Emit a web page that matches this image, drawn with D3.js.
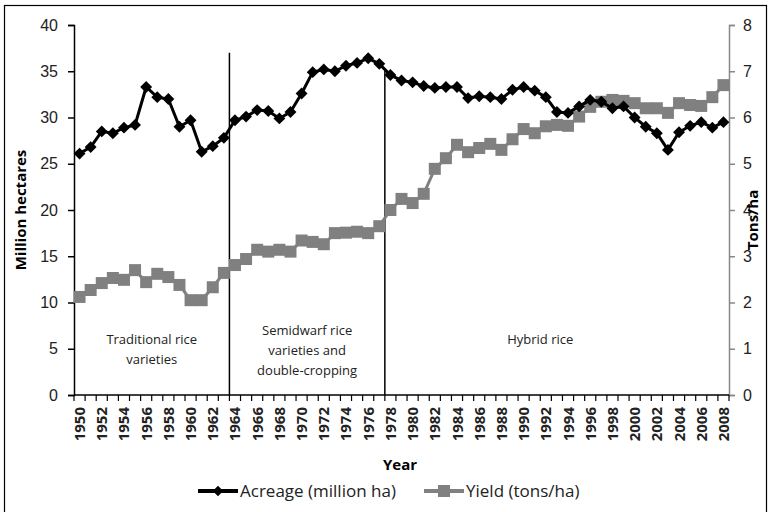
<!DOCTYPE html>
<html>
<head>
<meta charset="utf-8">
<script src="https://cdn.jsdelivr.net/npm/d3@7"></script>
<style>
  body { margin: 0; background: #fff; }
  svg { font-family: "Open Sans", "DejaVu Sans", sans-serif; }
</style>
</head>
<body>
<svg id="chart" width="769" height="512"></svg>
<script>
const years = d3.range(1950, 2009);
const acreage = [
  26.1, 26.8, 28.5, 28.3, 28.9, 29.2, 33.3, 32.2, 32.0, 29.0,
  29.7, 26.3, 26.9, 27.8, 29.7, 30.1, 30.8, 30.7, 29.9, 30.6,
  32.6, 34.9, 35.2, 35.0, 35.6, 35.9, 36.4, 35.8, 34.6, 34.0,
  33.8, 33.4, 33.2, 33.3, 33.3, 32.1, 32.3, 32.2, 32.0, 33.0,
  33.3, 32.9, 32.2, 30.6, 30.5, 31.2, 31.9, 31.7, 31.0, 31.2,
  30.0, 29.0, 28.3, 26.5, 28.4, 29.1, 29.5, 28.9, 29.5
];
const yieldVals = [
  2.12, 2.27, 2.42, 2.53, 2.49, 2.70, 2.44, 2.62, 2.55, 2.38,
  2.05, 2.05, 2.33, 2.64, 2.81, 2.94, 3.14, 3.10, 3.14, 3.10,
  3.34, 3.31, 3.26, 3.50, 3.51, 3.53, 3.50, 3.65, 4.00, 4.24,
  4.15, 4.35, 4.89, 5.12, 5.41, 5.25, 5.34, 5.43, 5.30, 5.53,
  5.75, 5.66, 5.81, 5.84, 5.82, 6.02, 6.23, 6.34, 6.38, 6.36,
  6.31, 6.20, 6.20, 6.10, 6.31, 6.27, 6.25, 6.44, 6.70
];
const leftTicks = [0, 5, 10, 15, 20, 25, 30, 35, 40];
const rightTicks = [0, 1, 2, 3, 4, 5, 6, 7, 8];
const periodStarts = [1964, 1978];
const periodTops = [37, 35.1];
const periodLabels = [
  { year: 1956.5, lines: ["Traditional rice", "varieties"], y: 5.5 },
  { year: 1970.5, lines: ["Semidwarf rice", "varieties and", "double-cropping"], y: 6.5 },
  { year: 1991.5, lines: ["Hybrid rice"], y: 5.5 }
];
const seriesNames = ["Acreage (million ha)", "Yield (tons/ha)"];

const svg = d3.select("#chart");
const plotL = 74, plotR = 729, plotT = 25, plotB = 395;

svg.append("rect")
  .attr("x", 4.5).attr("y", 5.5).attr("width", 762).attr("height", 520)
  .attr("fill", "none").attr("stroke", "#000").attr("stroke-width", 1.2);

const x = d3.scaleBand().domain(years).range([plotL, plotR]);
const xc = d => x(d) + x.bandwidth() / 2;
const yL = d3.scaleLinear().domain([0, 40]).range([plotB, plotT]);
const yR = d3.scaleLinear().domain([0, 8]).range([plotB, plotT]);

// left axis
const gL = svg.append("g").attr("transform", `translate(${plotL},0)`)
  .call(d3.axisLeft(yL).tickValues(leftTicks).tickSize(6).tickPadding(10));
gL.selectAll("path, line").attr("stroke", "#000").attr("stroke-width", 1.5);
gL.selectAll("text").attr("font-size", 16).attr("fill", "#222");

// right axis
const gR = svg.append("g").attr("transform", `translate(${plotR},0)`)
  .call(d3.axisRight(yR).tickValues(rightTicks).tickSize(6).tickPadding(8));
gR.selectAll("path, line").attr("stroke", "#888").attr("stroke-width", 1.5);
gR.selectAll("text").attr("font-size", 16).attr("fill", "#222");

// bottom axis: ticks at category boundaries
const gB = svg.append("g").attr("transform", `translate(0,${plotB})`);
gB.append("line").attr("x1", plotL).attr("x2", plotR)
  .attr("stroke", "#000").attr("stroke-width", 1.5);
gB.selectAll("line.tk").data(years.concat([2009])).join("line")
  .attr("class", "tk")
  .attr("x1", d => d === 2009 ? plotR : x(d))
  .attr("x2", d => d === 2009 ? plotR : x(d))
  .attr("y1", 0).attr("y2", 6)
  .attr("stroke", "#000").attr("stroke-width", 1.2);
gB.selectAll("text").data(years.filter(d => d % 2 === 0)).join("text")
  .attr("transform", d => `translate(${xc(d) + 5.5},12) rotate(-90)`)
  .attr("text-anchor", "end")
  .attr("font-size", 15).attr("font-weight", "bold").attr("fill", "#222")
  .text(d => d);

// period dividers
svg.selectAll("line.period").data(periodStarts).join("line")
  .attr("class", "period")
  .attr("x1", d => x(d)).attr("x2", d => x(d))
  .attr("y1", (d, i) => yL(periodTops[i])).attr("y2", plotB)
  .attr("stroke", "#000").attr("stroke-width", 1.5);

// period labels
periodLabels.forEach(p => {
  const t = svg.append("text")
    .attr("x", xc(Math.floor(p.year)) + (p.year % 1 ? x.bandwidth() / 2 : 0))
    .attr("y", yL(p.y))
    .attr("text-anchor", "middle")
    .attr("font-size", 13).attr("fill", "#222");
  p.lines.forEach((l, i) => t.append("tspan")
    .attr("x", t.attr("x")).attr("dy", i ? 20 : 0).text(l));
});

// series
const lineL = d3.line().x((d, i) => xc(years[i])).y(d => yL(d));
const lineR = d3.line().x((d, i) => xc(years[i])).y(d => yR(d));

svg.append("path").datum(yieldVals).attr("d", lineR)
  .attr("fill", "none").attr("stroke", "#808080").attr("stroke-width", 3);
svg.selectAll("rect.yld").data(yieldVals).join("rect")
  .attr("class", "yld")
  .attr("x", (d, i) => xc(years[i]) - 6).attr("y", d => yR(d) - 6)
  .attr("width", 12).attr("height", 12).attr("fill", "#808080");

svg.append("path").datum(acreage).attr("d", lineL)
  .attr("fill", "none").attr("stroke", "#000").attr("stroke-width", 3);
svg.selectAll("path.acr").data(acreage).join("path")
  .attr("class", "acr")
  .attr("d", d3.symbol(d3.symbolDiamond2, 90))
  .attr("transform", (d, i) => `translate(${xc(years[i])},${yL(d)})`)
  .attr("fill", "#000");

// axis titles
svg.append("text")
  .attr("transform", `translate(26,${(plotT + plotB) / 2}) rotate(-90)`)
  .attr("text-anchor", "middle").attr("font-size", 15).attr("font-weight", "bold")
  .text("Million hectares");
svg.append("text")
  .attr("transform", `translate(758,${(plotT + plotB) / 2 + 10}) rotate(-90)`)
  .attr("text-anchor", "middle").attr("font-size", 15).attr("font-weight", "bold")
  .text("Tons/ha");
svg.append("text")
  .attr("x", 400).attr("y", 470)
  .attr("text-anchor", "middle").attr("font-size", 15).attr("font-weight", "bold")
  .text("Year");

// legend
const legend = svg.append("g").attr("transform", "translate(0,497)");
const legX = [198, 424];
seriesNames.forEach((name, i) => {
  const g = legend.append("g").attr("transform", `translate(${legX[i]},0)`);
  g.append("line").attr("x1", 0).attr("x2", 40).attr("y1", -6).attr("y2", -6)
    .attr("stroke", i ? "#808080" : "#000").attr("stroke-width", 4);
  if (i) {
    g.append("rect").attr("x", 14).attr("y", -12).attr("width", 12).attr("height", 12)
      .attr("fill", "#808080");
  } else {
    g.append("path").attr("d", d3.symbol(d3.symbolDiamond2, 70))
      .attr("transform", "translate(20,-6)").attr("fill", "#000");
  }
  g.append("text").attr("x", 42).attr("y", 0)
    .attr("font-size", 17).attr("fill", "#222").text(name);
});
</script>
</body>
</html>
